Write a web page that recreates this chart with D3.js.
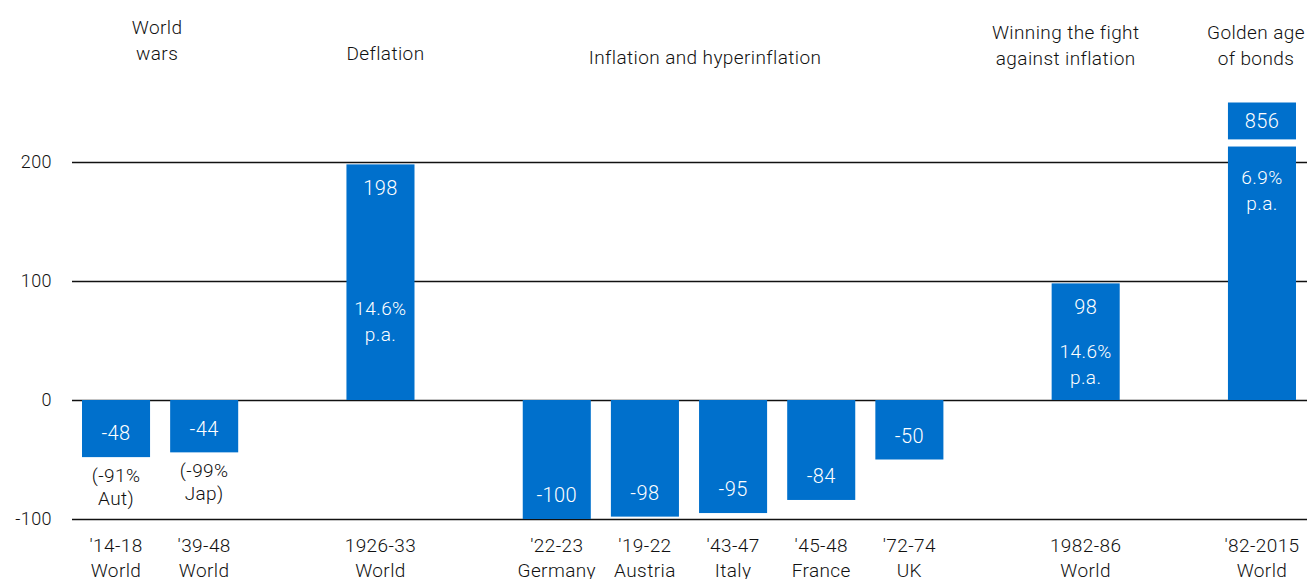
<!DOCTYPE html>
<html>
<head>
<meta charset="utf-8">
<script src="https://cdn.jsdelivr.net/npm/d3@7"></script>
<style>
  body { margin: 0; background: #fff; }
  svg text { font-family: Roboto, "Liberation Sans", sans-serif; font-weight: 300; letter-spacing: 0.4px; }
</style>
</head>
<body>
<div id="chart"></div>
<script>
// real returns on bonds, per episode
var periods = ["'14-18", "'39-48", "1926-33", "'22-23", "'19-22", "'43-47", "'45-48", "'72-74", "1982-86", "'82-2015"];
var regions = ["World", "World", "World", "Germany", "Austria", "Italy", "France", "UK", "World", "World"];
var returns = [-48, -44, 198, -100, -98, -95, -84, -50, 98, 856];
var notes = [["(-91%", "Aut)"], ["(-99%", "Jap)"], ["14.6%", "p.a."], [], [], [], [], [], ["14.6%", "p.a."], ["6.9%", "p.a."]];
var groupOf = [0, 0, 1, 2, 2, 2, 2, 2, 3, 4];
var groupTitles = [["World", "wars"], ["Deflation"], ["Inflation and hyperinflation"], ["Winning the fight", "against inflation"], ["Golden age", "of bonds"]];
var yTicks = [-100, 0, 100, 200];
var yCap = 250; // axis is broken above this value

var W = 1307, H = 579;
var blue = "#0070cc";

var svg = d3.select("#chart").append("svg")
    .attr("width", W)
    .attr("height", H);

// band domain: bars with a blank slot between each group
var slots = [];
periods.forEach(function(p, i) {
  if (i > 0 && groupOf[i] != groupOf[i - 1]) slots.push("gap" + i);
  slots.push("b" + i);
});

var x = d3.scaleBand()
    .domain(slots)
    .range([82, 1296])
    .paddingInner(0.228)
    .paddingOuter(0);

var y = d3.scaleLinear()
    .domain([-100, 200])
    .range([519, 162]);

// grid lines
svg.append("g")
  .selectAll("line")
  .data(yTicks)
  .enter().append("line")
    .attr("x1", 72)
    .attr("x2", W)
    .attr("y1", function(d) { return Math.round(y(d)) + 0.5; })
    .attr("y2", function(d) { return Math.round(y(d)) + 0.5; })
    .attr("stroke", "#111")
    .attr("stroke-width", 1.3);

// y labels
svg.append("g")
  .selectAll("text")
  .data(yTicks)
  .enter().append("text")
    .attr("x", 52)
    .attr("y", function(d) { return y(d); })
    .attr("dy", "0.36em")
    .attr("text-anchor", "end")
    .style("font-size", "18px")
    .attr("fill", "#111")
    .text(function(d) { return d; });

var data = periods.map(function(p, i) {
  return { key: "b" + i, i: i, period: p, region: regions[i], value: returns[i], note: notes[i] };
});

var breakLo = 213, breakHi = 219;

// bars
var bars = svg.append("g");
data.forEach(function(d) {
  var bx = x(d.key), bw = x.bandwidth();
  if (d.value > yCap) {
    bars.append("rect")
      .attr("x", bx).attr("width", bw)
      .attr("y", y(breakLo)).attr("height", y(0) - y(breakLo))
      .attr("fill", blue);
    bars.append("rect")
      .attr("x", bx).attr("width", bw)
      .attr("y", y(yCap)).attr("height", y(breakHi) - y(yCap))
      .attr("fill", blue);
  } else {
    bars.append("rect")
      .attr("x", bx).attr("width", bw)
      .attr("y", y(Math.max(0, d.value)))
      .attr("height", Math.abs(y(d.value) - y(0)))
      .attr("fill", blue);
  }
});

// value labels inside bars
var cx = function(d) { return x(d.key) + x.bandwidth() / 2; };
svg.append("g")
  .selectAll("text")
  .data(data)
  .enter().append("text")
    .attr("x", cx)
    .attr("y", function(d) {
      if (d.value > yCap) return (y(yCap) + y(breakHi)) / 2;
      if (d.value >= 0) return y(d.value) + 23;
      return y(d.value) - 24;
    })
    .attr("dy", "0.36em")
    .attr("text-anchor", "middle")
    .attr("fill", "#fff")
    .style("font-size", "20px")
    .text(function(d) { return d.value; });

// notes: under negative bars, inside positive ones
var noteAt = { 2: 77, 8: 41, 9: 187 };
var noteG = svg.append("g");
data.forEach(function(d) {
  d.note.forEach(function(line, k) {
    var yy, col;
    if (d.value < 0) { yy = y(d.value) + 18 + k * 23; col = "#111"; }
    else { yy = y(noteAt[d.i]) + k * 26; col = "#fff"; }
    noteG.append("text")
      .attr("x", cx(d))
      .attr("y", yy)
      .attr("dy", "0.36em")
      .attr("text-anchor", "middle")
      .attr("fill", col)
      .style("font-size", "19px")
      .text(line);
  });
});

// category labels
var catG = svg.append("g");
data.forEach(function(d) {
  [d.period, d.region].forEach(function(line, k) {
    catG.append("text")
      .attr("x", cx(d))
      .attr("y", 545 + k * 25)
      .attr("dy", "0.36em")
      .attr("text-anchor", "middle")
      .attr("fill", "#111")
      .style("font-size", "19px")
      .text(line);
  });
});

// group titles
var titleShift = { 0: -3, 1: 5, 2: -28, 3: -20, 4: -6 };
var titleBottom = { 0: 53, 1: 53, 2: 57, 3: 58, 4: 58 };
groupTitles.forEach(function(lines, g) {
  var members = data.filter(function(d) { return groupOf[d.i] == g; });
  var mid = (cx(members[0]) + cx(members[members.length - 1])) / 2 + titleShift[g];
  lines.forEach(function(line, k) {
    svg.append("text")
      .attr("x", mid)
      .attr("y", titleBottom[g] - (lines.length - 1 - k) * 26)
      .attr("dy", "0.36em")
      .attr("text-anchor", "middle")
      .attr("fill", "#111")
      .style("font-size", "19px")
      .text(line);
  });
});
</script>
</body>
</html>
